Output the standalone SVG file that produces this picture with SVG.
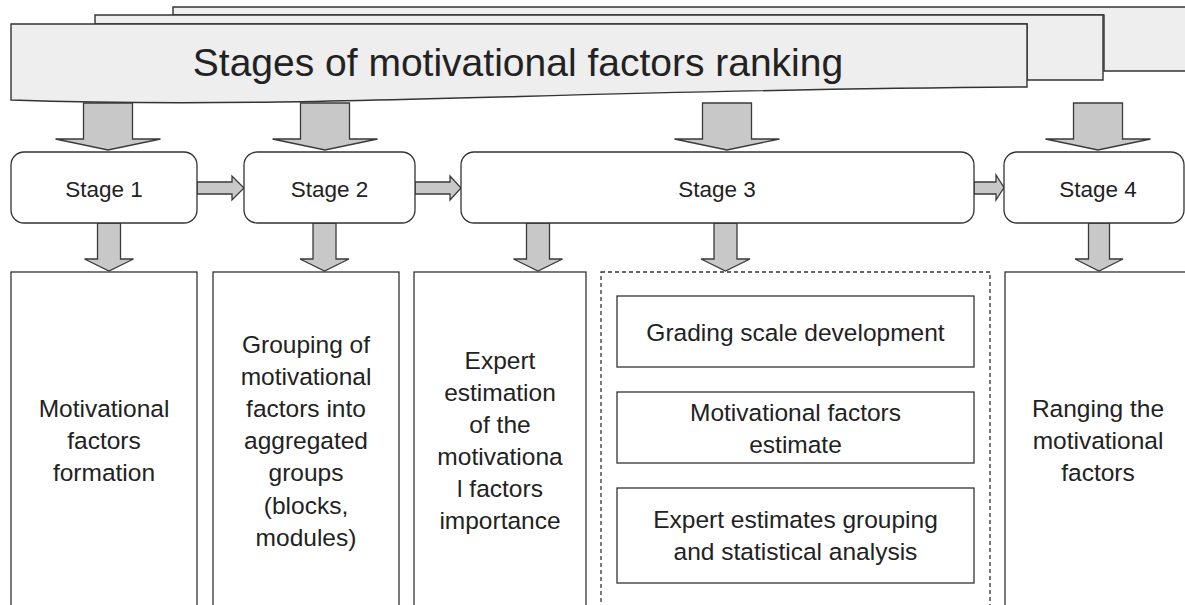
<svg xmlns="http://www.w3.org/2000/svg" width="1185" height="605" viewBox="0 0 1185 605">
<style>
  .banner { fill: #edeeed; stroke: #333; stroke-width: 1.4; }
  .arrow { fill: #c8c8c8; stroke: #3a3a3a; stroke-width: 1.3; stroke-linejoin: miter; }
  .stage { fill: #ffffff; stroke: #333; stroke-width: 1.3; }
  .box { fill: #ffffff; stroke: #333; stroke-width: 1.3; }
  .dash { fill: none; stroke: #333; stroke-width: 1.3; stroke-dasharray: 4 3; }
  text { font-family: "Liberation Sans", Arial, sans-serif; fill: #222; text-anchor: middle; }
  .title { font-size: 39px; }
  .st { font-size: 22.5px; }
  .t { font-size: 24.5px; }
</style>
<rect width="1185" height="605" fill="#ffffff"/>

<g id="title">
  <path class="banner" d="M173,7 H1195 V71 H1104 V15 H173 Z"/>
  <path class="banner" d="M95,15 H1103 V80 H1027 V24 H95 Z"/>
  <path class="banner" d="M11,24 H1027 V87 C550,90 300,110 11,100 Z"/>
  <text class="title" x="518" y="76">Stages of motivational factors ranking</text>
</g>

<g id="connectors">
  <polygon class="arrow" points="83.5,103 132.5,103 132.5,139 160.5,139 108,150 55.5,139 83.5,139"/>
  <polygon class="arrow" points="300.5,103 349.5,103 349.5,139 377.5,139 325,150 272.5,139 300.5,139"/>
  <polygon class="arrow" points="702.5,103 751.5,103 751.5,139 779.5,139 727,150 674.5,139 702.5,139"/>
  <polygon class="arrow" points="1073.5,103 1122.5,103 1122.5,139 1150.5,139 1098,150 1045.5,139 1073.5,139"/>

  <polygon class="arrow" points="197,182 232,182 232,176 244,188 232,200 232,194 197,194"/>
  <polygon class="arrow" points="415,182 450,182 450,176 461,188 450,200 450,194 415,194"/>
  <polygon class="arrow" points="974,182 996,182 996,175 1004,187.5 996,200 996,194 974,194"/>

  <polygon class="arrow" points="97.5,223 120.5,223 120.5,259 133.5,259 109,271 84.5,259 97.5,259"/>
  <polygon class="arrow" points="313,223 336,223 336,259 349,259 324.5,271 300,259 313,259"/>
  <polygon class="arrow" points="526.5,223 549.5,223 549.5,259 562.5,259 538,271 513.5,259 526.5,259"/>
  <polygon class="arrow" points="714,223 737,223 737,259 750,259 725.5,271 701,259 714,259"/>
  <polygon class="arrow" points="1088.5,223 1109.5,223 1109.5,259 1123,259 1099,271 1075,259 1088.5,259"/>
</g>

<g id="stage1">
  <rect class="stage" x="11" y="152" width="186" height="71" rx="13"/>
  <text class="st" x="104" y="197">Stage 1</text>
</g>
<g id="stage2">
  <rect class="stage" x="244" y="152" width="171" height="71" rx="13"/>
  <text class="st" x="329.5" y="197">Stage 2</text>
</g>
<g id="stage3">
  <rect class="stage" x="461" y="152" width="513" height="71" rx="13"/>
  <text class="st" x="717" y="197">Stage 3</text>
</g>
<g id="stage4">
  <rect class="stage" x="1004" y="152" width="180" height="71" rx="13"/>
  <text class="st" x="1098" y="197">Stage 4</text>
</g>

<g id="box1">
  <rect class="box" x="11" y="272" width="186" height="350"/>
  <text class="t" x="104" y="417">Motivational</text>
  <text class="t" x="104" y="449">factors</text>
  <text class="t" x="104" y="481">formation</text>
</g>
<g id="box2">
  <rect class="box" x="213" y="272" width="186" height="350"/>
  <text class="t" x="306" y="353">Grouping of</text>
  <text class="t" x="306" y="385">motivational</text>
  <text class="t" x="306" y="417">factors into</text>
  <text class="t" x="306" y="449">aggregated</text>
  <text class="t" x="306" y="481">groups</text>
  <text class="t" x="306" y="514">(blocks,</text>
  <text class="t" x="306" y="546">modules)</text>
</g>
<g id="box3">
  <rect class="box" x="414" y="272" width="172" height="350"/>
  <text class="t" x="500" y="369">Expert</text>
  <text class="t" x="500" y="401">estimation</text>
  <text class="t" x="500" y="433">of the</text>
  <text class="t" x="500" y="465">motivationa</text>
  <text class="t" x="500" y="497">l factors</text>
  <text class="t" x="500" y="529">importance</text>
</g>
<g id="stage3-group">
  <rect class="dash" x="601" y="272" width="389" height="350"/>
</g>
<g id="boxA">
  <rect class="box" x="617" y="296" width="357" height="71"/>
  <text class="t" x="795.5" y="341">Grading scale development</text>
</g>
<g id="boxB">
  <rect class="box" x="617" y="392" width="357" height="71"/>
  <text class="t" x="795.5" y="421">Motivational factors</text>
  <text class="t" x="795.5" y="453">estimate</text>
</g>
<g id="boxC">
  <rect class="box" x="617" y="488" width="357" height="95"/>
  <text class="t" x="795.5" y="528">Expert estimates grouping</text>
  <text class="t" x="795.5" y="560">and statistical analysis</text>
</g>
<g id="box4">
  <rect class="box" x="1005" y="272" width="200" height="350"/>
  <text class="t" x="1098" y="417">Ranging the</text>
  <text class="t" x="1098" y="449">motivational</text>
  <text class="t" x="1098" y="481">factors</text>
</g>
</svg>
